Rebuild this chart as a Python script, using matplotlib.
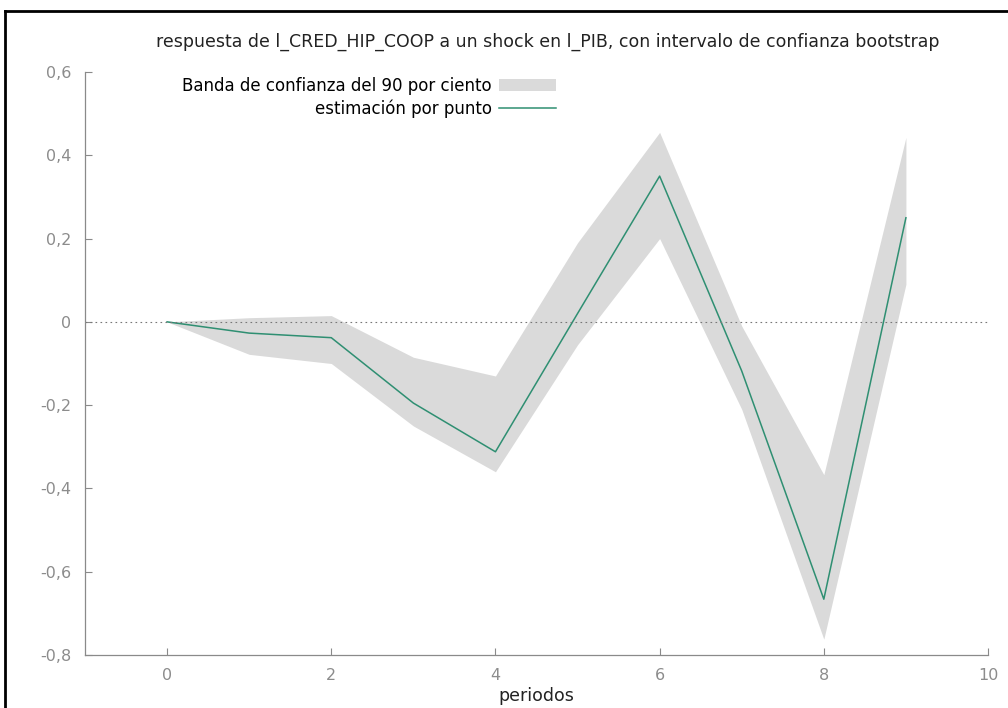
import numpy as np
import matplotlib
matplotlib.use("Agg")
import matplotlib.pyplot as plt
from matplotlib.ticker import FuncFormatter
from matplotlib.lines import Line2D
from matplotlib.patches import Patch

# impulse response
periods = [0, 1, 2, 3, 4, 5, 6, 7, 8, 9]
irf = [0.0, -0.027, -0.038, -0.195, -0.312, 0.02, 0.35, -0.118, -0.666, 0.25]
band_lo = [0.0, -0.078, -0.10, -0.25, -0.36, -0.055, 0.20, -0.21, -0.762, 0.09]
band_hi = [0.0, 0.01, 0.015, -0.085, -0.13, 0.19, 0.455, -0.01, -0.367, 0.443]

title = "respuesta de l_CRED_HIP_COOP a un shock en l_PIB, con intervalo de confianza bootstrap"
band_label = "Banda de confianza del 90 por ciento"
line_label = "estimación por punto"

axis_grey = "#8a8a8a"
band_col = "#dadada"
line_col = "#2f8f72"

fig = plt.figure(figsize=(10.08, 7.08), dpi=100)
ax = fig.add_axes([85 / 1008, 53 / 708, 903 / 1008, 583 / 708])

ax.fill_between(periods, band_lo, band_hi, color=band_col, linewidth=0)
ax.plot(periods, irf, color=line_col, linewidth=1.1)
ax.axhline(0, color="#777777", linewidth=0.8, linestyle=(0, (1.5, 3)))

ax.set_xlim(-1, 10)
ax.set_ylim(-0.8, 0.6)
ax.set_xticks(range(0, 11, 2))
ax.set_yticks(np.arange(-0.8, 0.61, 0.2))

def comma(v, pos):
    v = round(v, 1)
    if abs(v) < 1e-9:
        return "0"
    return ("%g" % v).replace(".", ",")

ax.yaxis.set_major_formatter(FuncFormatter(comma))
ax.xaxis.set_major_formatter(FuncFormatter(comma))

for side in ["top", "right"]:
    ax.spines[side].set_visible(False)
for side in ["left", "bottom"]:
    ax.spines[side].set_color(axis_grey)
    ax.spines[side].set_linewidth(0.9)
ax.tick_params(direction="in", length=5, width=0.8, color=axis_grey,
               labelcolor="#8c8c8c", labelsize=11.5)
ax.tick_params(axis="y", pad=10)
ax.tick_params(axis="x", pad=9)

ax.set_xlabel("periodos", fontsize=12.5, color="#222222", labelpad=3)
fig.text(548 / 1008, 1 - 42 / 708, title, ha="center", va="center",
         fontsize=12.5, color="#222222")

handles = [Patch(facecolor=band_col, edgecolor="none"),
           Line2D([], [], color=line_col, linewidth=1.1)]
leg = fig.legend(handles, [band_label, line_label], loc="upper right",
                 bbox_to_anchor=(556 / 1008, 1 - 77 / 708), frameon=False,
                 markerfirst=False, fontsize=12, handlelength=3.4,
                 handleheight=0.75, labelspacing=0.25, handletextpad=0.45,
                 borderaxespad=0, borderpad=0)

# black frame of the screenshot (top and left edges)
fig.add_artist(Line2D([5 / 1008, 1], [1 - 11 / 708, 1 - 11 / 708],
                      color="black", linewidth=2))
fig.add_artist(Line2D([5 / 1008, 5 / 1008], [0, 1 - 11 / 708],
                      color="black", linewidth=2))

fig.savefig("out.png", dpi=100)
